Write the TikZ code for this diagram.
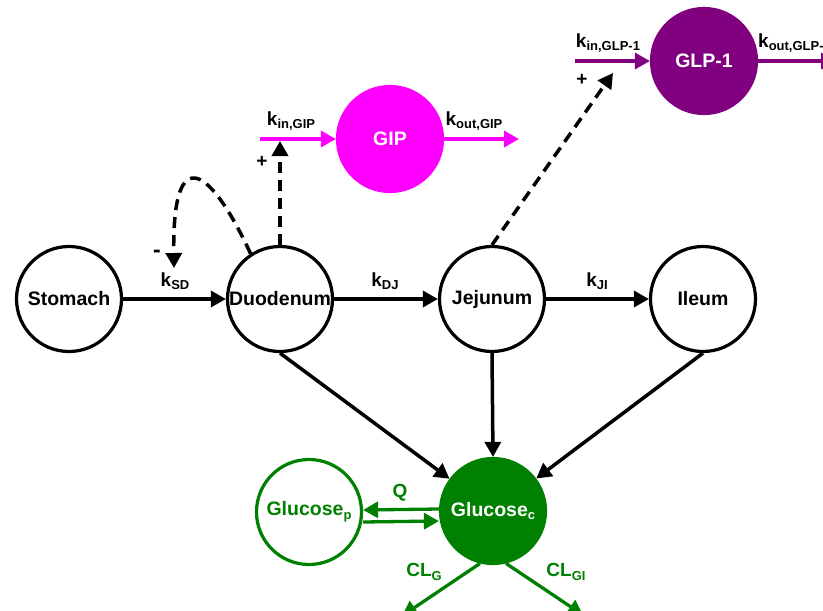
\documentclass[tikz,border=0pt]{standalone}
\usepackage{fontspec}
\setmainfont{Liberation Sans}
\usetikzlibrary{arrows.meta}
\definecolor{gipmag}{RGB}{255,0,255}
\definecolor{glppur}{RGB}{128,0,128}
\definecolor{glcgrn}{RGB}{0,128,0}
% lowered, smaller subscript in the sans font
\newcommand{\lowsub}[1]{\raisebox{-0.35ex}{\fontsize{13}{13}\selectfont\bfseries #1}}
\begin{document}
\begin{tikzpicture}[x=1pt,y=-1pt,
  comp/.style={circle,draw,line width=3.2pt,minimum size=105pt,inner sep=0pt,
    font=\fontsize{19.5}{20}\selectfont\bfseries},
  lbl/.style={inner sep=0pt,font=\fontsize{19}{20}\selectfont\bfseries},
  arr/.style={line width=3.5pt,-{Triangle[length=15pt,width=16pt]}},
  dasharr/.style={arr,dash pattern=on 11pt off 7pt},
  garr/.style={arr,glcgrn,line width=3.3pt},
]
\useasboundingbox (0,0) rectangle (823,611);

% gut compartments
\node[comp] (sto) at (69,299) {Stomach};
\node[comp] (duo) at (280,299) {Duodenum};
\node[comp] (jej) at (492,299) {Jejunum};
\node[comp] (ile) at (703,299) {Ileum};

% hormones
\node[comp,draw=gipmag,fill=gipmag,text=white] (gip) at (390,139) {GIP};
\node[comp,draw=glppur,fill=glppur,text=white] (glp) at (704,61) {GLP-1};

% glucose compartments
\node[comp,draw=glcgrn,text=glcgrn] (glp2) at (309,512) {Glucose\lowsub{p}};
\node[comp,draw=glcgrn,fill=glcgrn,text=white] (glc) at (493,511) {Glucose\lowsub{c}};

% free ends
\coordinate (gipsrc) at (260,139);
\coordinate (gipout) at (519,139);
\coordinate (glpsrc) at (575,61);
\coordinate (glpout) at (836,61);
\coordinate (gipup) at (280,141);
\coordinate (sdfb) at (174,268);
\coordinate (glpup) at (613,73);
\coordinate (clgl) at (402,616);
\coordinate (clgr) at (583,615);

% transit along the gut
\draw[arr] (sto) -- (duo);
\draw[arr] (duo) -- (jej);
\draw[arr] (jej) -- (ile);
\node[lbl] (ksd) at (175,281) {k\lowsub{SD}};
\node[lbl] (kdj) at (385,281) {k\lowsub{DJ}};
\node[lbl] (kji) at (597,281) {k\lowsub{JI}};

% absorption into central glucose
\draw[arr] (duo.south) -- (glc);
\draw[arr] (jej.south) -- (glc.north);
\draw[arr] (ile.south) -- (glc);

% GIP turnover
\draw[arr,gipmag] (gipsrc) -- (gip);
\draw[arr,gipmag] (gip) -- (gipout);
\node[lbl] (kingip) at (291,121) {k\lowsub{in,GIP}};
\node[lbl] (koutgip) at (474,121) {k\lowsub{out,GIP}};

% GLP-1 turnover
\draw[arr,glppur] (glpsrc) -- (glp);
\draw[arr,glppur] (glp) -- (glpout);
\node[lbl] (kinglp) at (608,43) {k\lowsub{in,GLP-1}};
\node[lbl,anchor=west] (koutglp) at (758,43) {k\lowsub{out,GLP-1}};

% stimulation and feedback
\draw[dasharr] (duo.north) -- (gipup);
\node[lbl] (plusgip) at (262,162) {+};
\draw[dasharr] (duo.123) .. controls (213,172) and (172,135) .. (sdfb);
\node[lbl,font=\fontsize{23}{23}\selectfont\bfseries] (minus) at (157,254) {-};
\draw[dasharr] (jej.north) -- (glpup);
\node[lbl] (plusglp) at (582,80) {+};

% glucose distribution and clearance
\draw[garr] ([yshift=2pt]glc.west) -- ([yshift=2pt]glp2.east);
\draw[garr] ([yshift=-10pt]glp2.east) -- ([yshift=-10pt]glc.west);
\node[lbl,text=glcgrn] (q) at (400,493) {Q};
\draw[garr] (glc.-104) -- (clgl);
\draw[garr] (glc.-76) -- (clgr);
\node[lbl,text=glcgrn] (clg) at (424,572) {CL\lowsub{G}};
\node[lbl,text=glcgrn] (clgi) at (566,572) {CL\lowsub{GI}};
\end{tikzpicture}
\end{document}
